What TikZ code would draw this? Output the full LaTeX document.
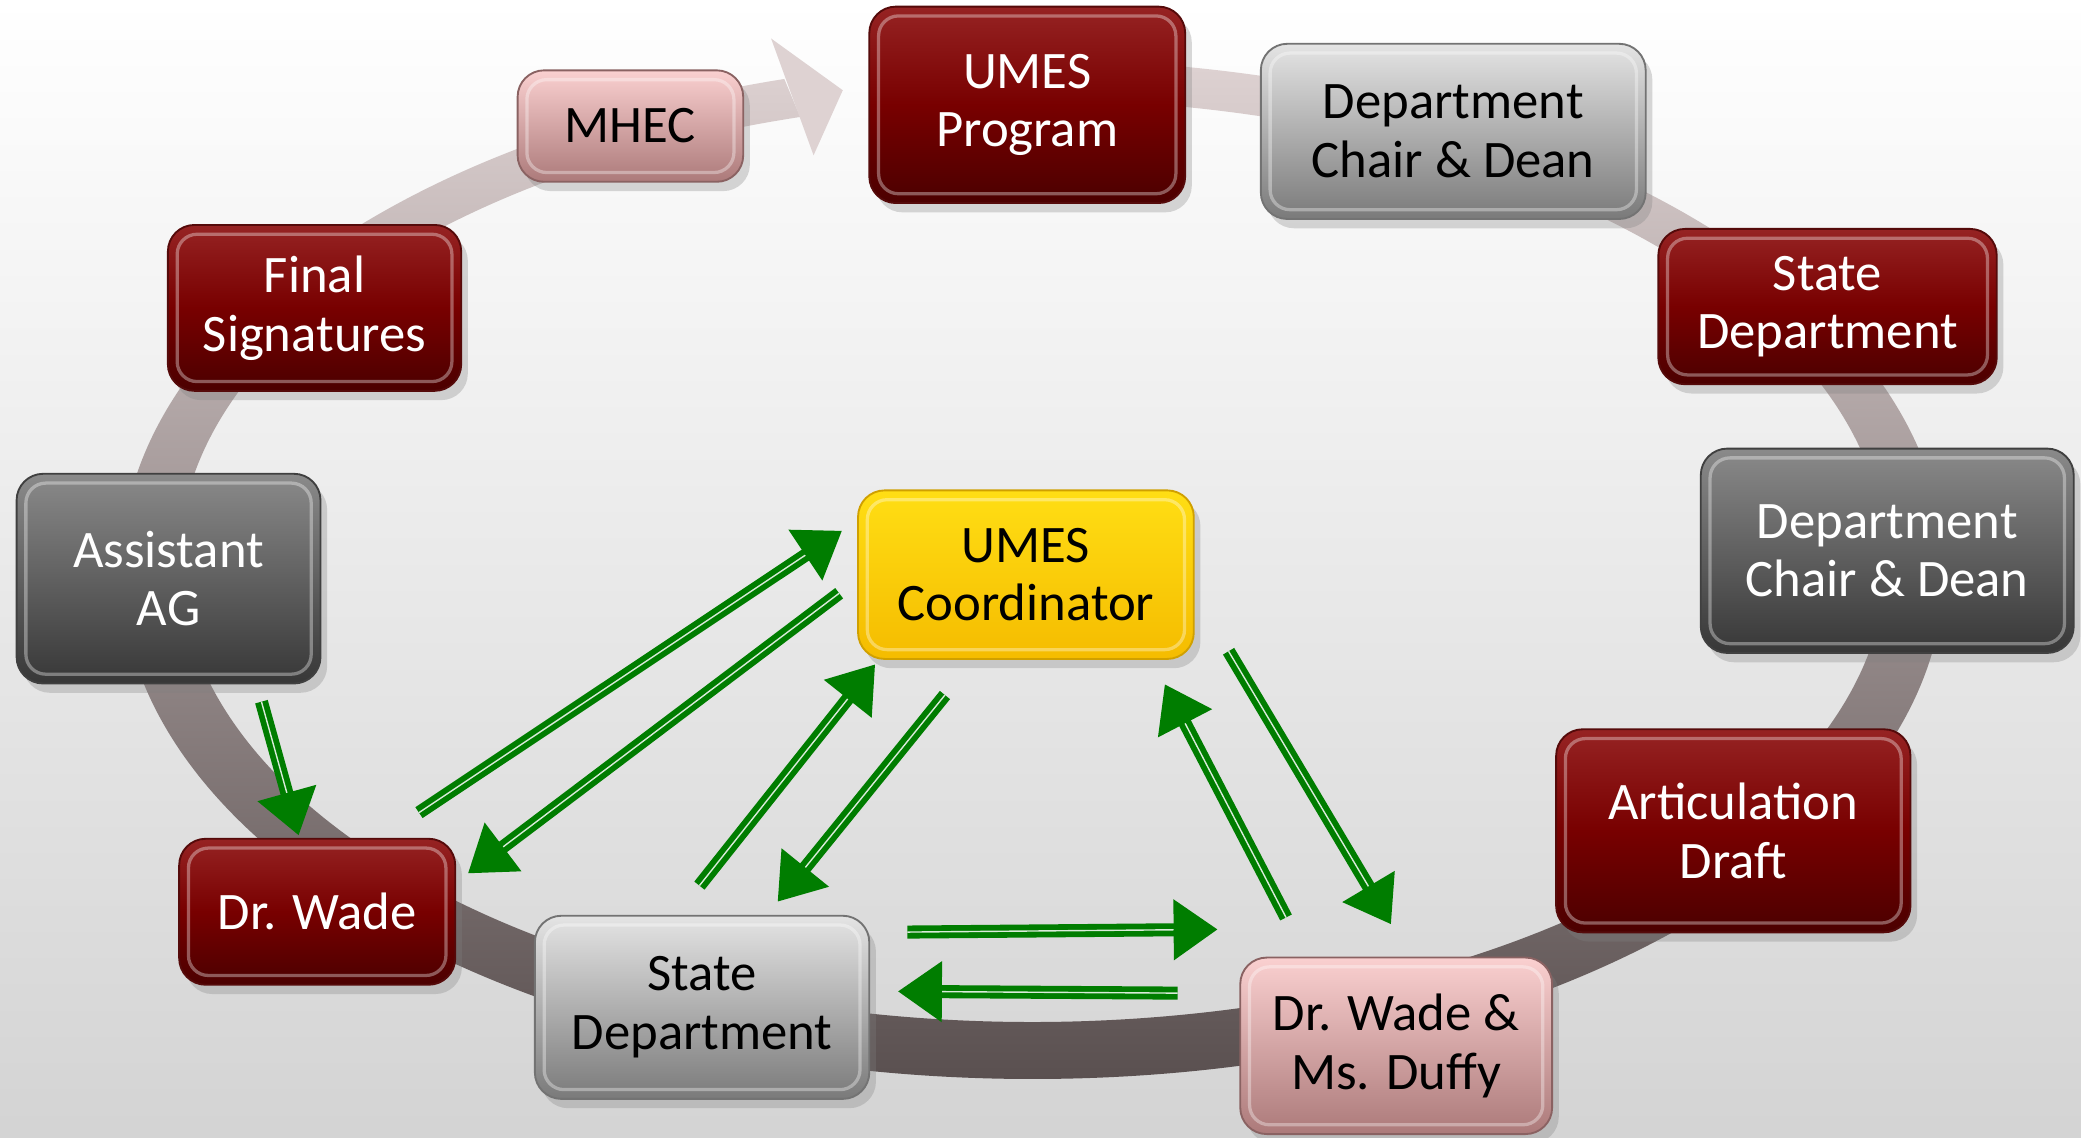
\documentclass[tikz,border=0pt]{standalone}
\usepackage{fontspec}
\setmainfont{Carlito}
\usetikzlibrary{arrows.meta}
\usetikzlibrary{shadows}

\definecolor{redtop}{RGB}{150,35,35}
\definecolor{redmid}{RGB}{120,0,0}
\definecolor{redbot}{RGB}{75,0,0}
\definecolor{redline}{RGB}{85,10,10}
\definecolor{pinktop}{RGB}{250,208,208}
\definecolor{pinkbot}{RGB}{172,122,122}
\definecolor{greytop}{RGB}{228,228,228}
\definecolor{greybot}{RGB}{122,122,122}
\definecolor{darktop}{RGB}{138,138,138}
\definecolor{darkbot}{RGB}{55,55,55}
\definecolor{goldtop}{RGB}{255,222,20}
\definecolor{goldbot}{RGB}{245,188,0}
\definecolor{ringtop}{RGB}{222,210,210}
\definecolor{ringbot}{RGB}{90,80,80}
\definecolor{arrowgreen}{RGB}{0,125,0}

\tikzset{
  stagebox/.style={draw, rounded corners=2mm, align=center, font=\fontsize{11.3}{12.6}\selectfont,
    drop shadow={shadow xshift=0.5mm, shadow yshift=-0.7mm, opacity=0.3},
    path picture={\draw[white, opacity=0.35, line width=0.7pt, rounded corners=1.5mm]
      ([shift={(0.7mm,0.7mm)}]path picture bounding box.south west) rectangle
      ([shift={(-0.7mm,-0.7mm)}]path picture bounding box.north east);}},
  redbox/.style={stagebox, draw=redline, top color=redtop, bottom color=redbot, middle color=redmid, text=white},
  pinkbox/.style={stagebox, draw=pinkbot!80!black, top color=pinktop, bottom color=pinkbot, text=black},
  greybox/.style={stagebox, draw=black!55, top color=greytop, bottom color=greybot, text=black},
  darkbox/.style={stagebox, draw=black!75, top color=darktop, bottom color=darkbot, text=white},
  goldbox/.style={stagebox, draw=goldbot!85!black, top color=goldtop, bottom color=goldbot, text=black},
  garrow/.style={draw=arrowgreen, line width=1.25pt, double=white!85!arrowgreen, double distance=0.3pt,
    -{Triangle[length=3.3mm, width=4.5mm]}},
}

\begin{document}
\begin{tikzpicture}

\useasboundingbox (0,0) rectangle (15.68,8.57);
\shade[top color=white, bottom color=black!17] (0,0) rectangle (15.68,8.57);

\shade[top color=ringtop, bottom color=ringbot] (7.78,8.12) arc[start angle=90, end angle=-254.2, x radius=6.87, y radius=3.84] -- ([shift={(7.78,4.345)}]-254.2:6.43 and 3.475) arc[start angle=-254.2, end angle=90, x radius=6.43, y radius=3.475] -- cycle;
\fill[ringtop] (5.81,8.28) -- (6.35,7.89) -- (6.13,7.40) -- cycle;

\node[align=center] (prog) [style=redbox, minimum width=2.38cm, minimum height=1.48cm] at (7.74, 7.78) {UMES\\Program};
\node[align=center] (deantop) [style=greybox, minimum width=2.90cm, minimum height=1.32cm] at (10.95, 7.58) {Department\\Chair \& Dean};
\node[align=center] (stateR) [style=redbox, minimum width=2.55cm, minimum height=1.17cm] at (13.77, 6.26) {State\\Department};
\node[align=center] (deanR) [style=darkbox, minimum width=2.81cm, minimum height=1.54cm] at (14.22, 4.42) {Department\\Chair \& Dean};
\node[align=center] (draft) [style=redbox, minimum width=2.67cm, minimum height=1.53cm] at (13.06, 2.31) {Articulation\\Draft};
\node[align=center] (duffy) [style=pinkbox, minimum width=2.35cm, minimum height=1.33cm] at (10.52, 0.69) {Dr. Wade \&\\Ms. Duffy};
\node[align=center] (stateB) [style=greybox, minimum width=2.52cm, minimum height=1.38cm] at (5.29, 0.98) {State\\Department};
\node[align=center] (wade) [style=redbox, minimum width=2.08cm, minimum height=1.10cm] at (2.39, 1.70) {Dr. Wade};
\node[align=center] (aag) [style=darkbox, minimum width=2.29cm, minimum height=1.58cm] at (1.27, 4.21) {Assistant\\AG};
\node[align=center] (finalsig) [style=redbox, minimum width=2.21cm, minimum height=1.25cm] at (2.37, 6.25) {Final\\Signatures};
\node[align=center] (mhec) [style=pinkbox, minimum width=1.70cm, minimum height=0.84cm] at (4.75, 7.62) {MHEC};
\node[align=center] (coord) [style=goldbox, minimum width=2.53cm, minimum height=1.27cm] at (7.73, 4.24) {UMES\\Coordinator};

\draw[garrow] ([shift={(0.70,-0.13)}]aag.south) -- ([shift={(-0.14,0.02)}]wade.north);
\draw[garrow] ([shift={(-0.28,0.19)}]wade.north east) -- ([shift={(-0.115,0.33)}]coord.west);
\draw[garrow] ([shift={(-0.135,-0.14)}]coord.west) -- ([shift={(0.09,0.29)}]wade.east);
\draw[garrow] ([shift={(-0.02,0.22)}]stateB.north) -- ([shift={(0.135,-0.035)}]coord.south west);
\draw[garrow] ([shift={(-0.61,-0.265)}]coord.south) -- ([shift={(0.57,0.10)}]stateB.north);
\draw[garrow] ([shift={(0.28,-0.13)}]stateB.north east) -- ([shift={(-0.165,0.205)}]duffy.north west);
\draw[garrow] ([shift={(-0.465,-0.275)}]duffy.north west) -- ([shift={(0.21,0.12)}]stateB.east);
\draw[garrow] ([shift={(-0.83,0.295)}]duffy.north) -- ([shift={(-0.225,-0.185)}]coord.south east);
\draw[garrow] ([shift={(0.255,0.065)}]coord.south east) -- ([shift={(-0.04,0.245)}]duffy.north);

\end{tikzpicture}
\end{document}
